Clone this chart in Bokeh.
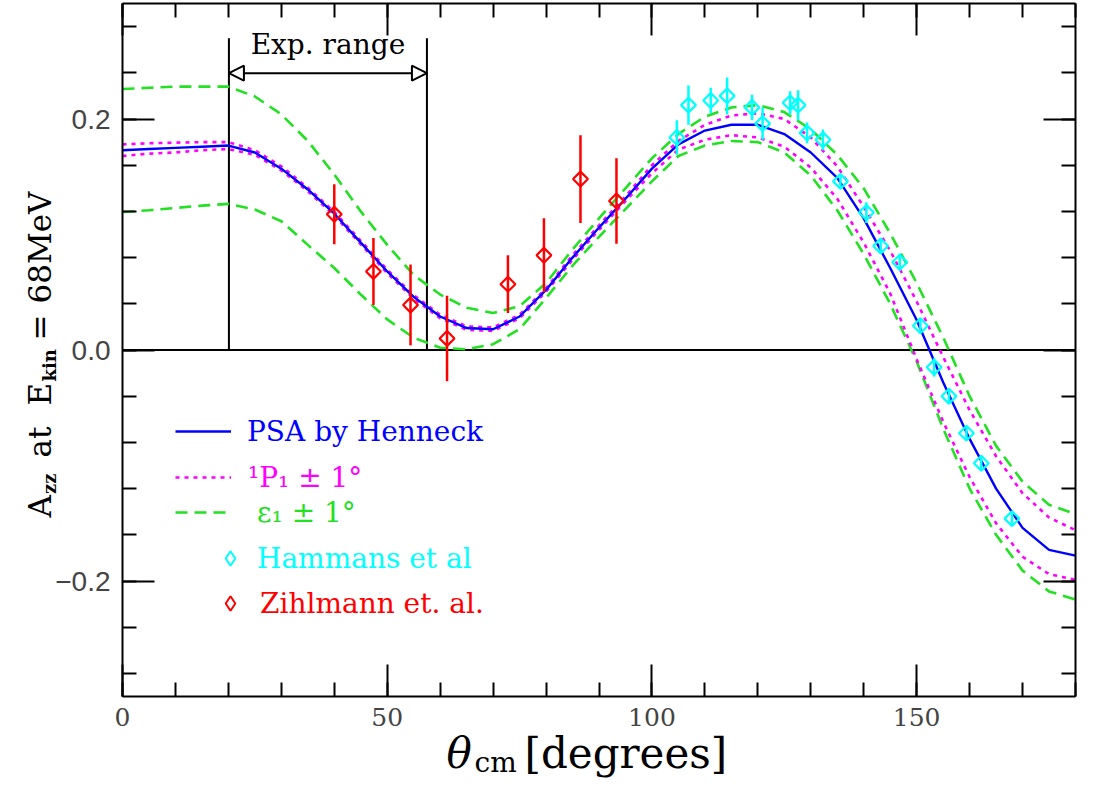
import numpy as np
from bokeh.plotting import figure
from bokeh.models import (Range1d, LinearAxis, FixedTicker, Label, Arrow,
                          NormalHead, Legend, LegendItem, ColumnDataSource)
from bokeh.embed import file_html
from bokeh.resources import INLINE

# ---------------- data ----------------
theta = [0, 5, 10, 15, 20, 25, 30, 35, 40, 45, 50, 55, 60, 65, 70, 75, 80, 85, 90,
         95, 100, 105, 110, 115, 120, 125, 130, 135, 140, 145, 150, 155, 160, 165,
         170, 175, 180]
psa = [0.173, 0.174, 0.175, 0.176, 0.177, 0.171, 0.157, 0.139, 0.118, 0.093, 0.068,
       0.046, 0.029, 0.019, 0.018, 0.029, 0.052, 0.080, 0.106, 0.131, 0.157, 0.178,
       0.190, 0.195, 0.195, 0.187, 0.171, 0.149, 0.114, 0.071, 0.026, -0.028, -0.077,
       -0.120, -0.154, -0.173, -0.178]
p1_up = [0.178, 0.179, 0.1795, 0.180, 0.180, 0.173, 0.159, 0.1405, 0.1195, 0.0945,
         0.0695, 0.0475, 0.0305, 0.0205, 0.0195, 0.0305, 0.0535, 0.082, 0.108, 0.133,
         0.160, 0.181, 0.195, 0.203, 0.205, 0.200, 0.184, 0.159, 0.124, 0.086, 0.042,
         -0.006, -0.052, -0.092, -0.124, -0.145, -0.156]
p1_lo = [0.168, 0.170, 0.171, 0.173, 0.174, 0.169, 0.1555, 0.1375, 0.1165, 0.0915,
         0.0665, 0.0445, 0.0275, 0.0175, 0.0165, 0.0275, 0.0505, 0.078, 0.104, 0.129,
         0.153, 0.1735, 0.182, 0.186, 0.184, 0.176, 0.158, 0.131, 0.093, 0.049, -0.008,
         -0.062, -0.110, -0.150, -0.179, -0.194, -0.199]
eps_up = [0.226, 0.227, 0.228, 0.228, 0.228, 0.2195, 0.204, 0.181, 0.152, 0.120, 0.091,
          0.065, 0.048, 0.0366, 0.032, 0.038, 0.058, 0.087, 0.114, 0.140, 0.166, 0.187,
          0.202, 0.210, 0.212, 0.206, 0.191, 0.169, 0.140, 0.101, 0.058, 0.011, -0.040,
          -0.083, -0.114, -0.134, -0.142]
eps_lo = [0.1195, 0.121, 0.123, 0.125, 0.1265, 0.1216, 0.1115, 0.091, 0.071, 0.048,
          0.0265, 0.0106, 0.002, 0.0006, 0.005, 0.018, 0.045, 0.073, 0.098, 0.122, 0.146,
          0.168, 0.177, 0.181, 0.180, 0.171, 0.151, 0.121, 0.083, 0.040, -0.010, -0.068,
          -0.120, -0.160, -0.191, -0.209, -0.216]

ham_x = [104.7, 106.9, 111.1, 114.2, 118.9, 120.9, 126.1, 127.6, 129.3, 132.3, 135.6,
         140.5, 143.2, 146.8, 150.7, 153.3, 156.1, 159.4, 162.2, 168.0]
ham_y = [0.184, 0.212, 0.216, 0.220, 0.210, 0.196, 0.214, 0.212, 0.188, 0.182, 0.146,
         0.119, 0.090, 0.076, 0.021, -0.015, -0.040, -0.072, -0.098, -0.146]
ham_err = [0.015, 0.017, 0.011, 0.016, 0.011, 0.014, 0.010, 0.013, 0.009, 0.009, 0.005,
           0.009, 0.006, 0.0075, 0.005, 0.008, 0.005, 0.005, 0.005, 0.005]

zih_x = [40.0, 47.4, 54.4, 61.3, 72.8, 79.6, 86.5, 93.3]
zih_y = [0.1175, 0.068, 0.039, 0.010, 0.057, 0.082, 0.148, 0.129]
zih_err = [0.026, 0.029, 0.035, 0.037, 0.025, 0.032, 0.038, 0.037]

x_lim = (0, 180)
y_lim = (-0.3, 0.3)
x_major = [0, 50, 100, 150]
x_minor = [0, 10, 20, 30, 40, 50, 60, 70, 80, 90, 100, 110, 120, 130, 140, 150, 160,
           170, 180]
y_major = [-0.2, 0.0, 0.2]
y_minor = [-0.28, -0.24, -0.20, -0.16, -0.12, -0.08, -0.04, 0.0, 0.04, 0.08, 0.12,
           0.16, 0.20, 0.24, 0.28]
y_tick_text = {-0.2: "\u22120.2", 0.0: "0.0", 0.2: "0.2"}

exp_range = [20.1, 57.5]
exp_top = 0.270
exp_arrow_y = 0.2397
exp_text_y = 0.2645
exp_text = "Exp. range"

# ---------------- geometry (pixels of the picture) ----------------
W, H = 1077, 780
BOX_L, BOX_R, BOX_T, BOX_B = 122, 1075, 3, 696   # plot box inside the canvas
sx = (BOX_R - BOX_L) / (x_lim[1] - x_lim[0])
sy = (BOX_B - BOX_T) / (y_lim[1] - y_lim[0])
xr = Range1d(x_lim[0] - BOX_L / sx, x_lim[1] + (W - BOX_R) / sx)
yr = Range1d(y_lim[0] - (H - BOX_B) / sy, y_lim[1] + BOX_T / sy)

p = figure(width=W, height=H, x_range=xr, y_range=yr,
           output_backend="svg", toolbar_location=None,
           x_axis_location=None, y_axis_location=None, min_border=0)
p.min_border_left = p.min_border_right = p.min_border_top = p.min_border_bottom = 0
p.xgrid.grid_line_color = None
p.ygrid.grid_line_color = None
p.outline_line_color = None
p.background_fill_color = "white"
p.border_fill_color = "white"


def make_axis(loc, bounds, ticks, minor, show):
    ax = LinearAxis(fixed_location=loc, bounds=bounds,
                    ticker=FixedTicker(ticks=ticks, minor_ticks=minor),
                    major_tick_in=32, major_tick_out=0,
                    minor_tick_in=14, minor_tick_out=0,
                    axis_line_width=2, major_tick_line_width=2,
                    minor_tick_line_width=2)
    if not show:
        ax.major_label_text_font_size = "1px"
        ax.major_label_text_alpha = 0
        ax.major_label_standoff = 0
    return ax


ax_b = make_axis(y_lim[0], x_lim, x_major, x_minor, True)
ax_b.major_label_text_font = "DejaVu Serif"
ax_b.major_label_text_font_size = "25px"
ax_b.major_label_standoff = 11
p.add_layout(ax_b, "below")
p.add_layout(make_axis(y_lim[1], x_lim, x_major, x_minor, False), "above")
ax_l = make_axis(x_lim[0], y_lim, y_major, y_minor, True)
ax_l.major_label_overrides = y_tick_text
ax_l.major_label_text_font = "Liberation Sans"
ax_l.major_label_text_font_size = "28px"
ax_l.major_label_standoff = 12
p.add_layout(ax_l, "left")
p.add_layout(make_axis(x_lim[1], y_lim, y_major, y_minor, False), "right")

# zero line
p.segment(x0=[x_lim[0]], y0=[0], x1=[x_lim[1]], y1=[0], line_color="black",
          line_width=2)

# experimental range marker
p.segment(x0=exp_range, y0=[0, 0], x1=exp_range, y1=[exp_top, exp_top],
          line_color="black", line_width=2)
p.add_layout(Arrow(x_start=exp_range[0], y_start=exp_arrow_y,
                   x_end=exp_range[1], y_end=exp_arrow_y,
                   line_color="black", line_width=2,
                   start=NormalHead(size=15, fill_color="white", line_color="black",
                                    line_width=2),
                   end=NormalHead(size=15, fill_color="white", line_color="black",
                                  line_width=2)))
p.add_layout(Label(x=sum(exp_range) / 2, y=exp_text_y, text=exp_text,
                   text_align="center", text_baseline="middle",
                   text_font="DejaVu Serif", text_font_size="28px", text_color="black"))

# curves
src = ColumnDataSource(dict(theta=theta, psa=psa, p1_up=p1_up, p1_lo=p1_lo,
                            eps_up=eps_up, eps_lo=eps_lo))
GREEN = "#22e022"
MAG = "#ff00ff"
CYAN = "#00ffff"
RED = "#ff0000"
BLUE = "#0000ff"
r_eps = p.line("theta", "eps_up", source=src, line_color=GREEN, line_width=2.6,
               line_dash="12 7")
p.line("theta", "eps_lo", source=src, line_color=GREEN, line_width=2.6, line_dash="12 7")
r_p1 = p.line("theta", "p1_up", source=src, line_color=MAG, line_width=2.6,
              line_dash="4 5")
p.line("theta", "p1_lo", source=src, line_color=MAG, line_width=2.6, line_dash="4 5")
r_psa = p.line("theta", "psa", source=src, line_color=BLUE, line_width=2.4)

# data with error bars
ham_lo = [y - e for y, e in zip(ham_y, ham_err)]
ham_hi = [y + e for y, e in zip(ham_y, ham_err)]
zih_lo = [y - e for y, e in zip(zih_y, zih_err)]
zih_hi = [y + e for y, e in zip(zih_y, zih_err)]
p.segment(x0=ham_x, y0=ham_lo, x1=ham_x, y1=ham_hi, line_color=CYAN, line_width=2.5)
p.scatter(ham_x, ham_y, marker="square", angle=np.pi / 4, size=10.5,
          fill_color=None, line_color=CYAN, line_width=2.2)
p.segment(x0=zih_x, y0=zih_lo, x1=zih_x, y1=zih_hi, line_color=RED, line_width=2.5)
p.scatter(zih_x, zih_y, marker="square", angle=np.pi / 4, size=10.5,
          fill_color=None, line_color=RED, line_width=2.2)

# legend-only marker renderers (diamond key, no visible point)
r_ham_key = p.scatter([float("nan")], [float("nan")], marker="diamond",
                      fill_color=None, line_color=CYAN, line_width=2)
r_zih_key = p.scatter([float("nan")], [float("nan")], marker="diamond",
                      fill_color=None, line_color=RED, line_width=2)


# legend: one single-item legend per entry (each has its own text colour)
def add_legend(label, renderer, color, gx, gw, standoff, cy):
    h = 40
    leg = Legend(items=[LegendItem(label=label, renderers=[renderer])],
                 location=(gx, H - (cy + h / 2)), orientation="vertical",
                 glyph_width=gw, glyph_height=h, label_height=h, label_standoff=standoff,
                 padding=0, margin=0, spacing=0, border_line_alpha=0,
                 background_fill_alpha=0, label_text_font="DejaVu Serif",
                 label_text_font_size="28px", label_text_color=color,
                 label_text_baseline="middle")
    p.add_layout(leg)


add_legend("PSA by Henneck", r_psa, BLUE, 175, 56, 16, 431)
add_legend("\u00b9P\u2081 \u00b1 1\u00b0", r_p1, MAG, 175, 56, 17, 477)
add_legend("\u03b5\u2081 \u00b1 1\u00b0", r_eps, GREEN, 175, 56, 26, 512)
add_legend("Hammans et al", r_ham_key, CYAN, 212, 36, 9, 558)
add_legend("Zihlmann et. al.", r_zih_key, RED, 212, 36, 12, 603)


# axis titles composed of pieces; (px, py) = centre line of the text in picture pixels
def add_text(text, px, py, size, angle=0.0, style="normal"):
    p.add_layout(Label(x=px, y=H - py, x_units="screen", y_units="screen",
                       text=text, angle=angle, text_align="left",
                       text_baseline="middle", text_font="DejaVu Serif",
                       text_font_size=f"{size}px", text_font_style=style,
                       text_color="black"))


R = np.pi / 2
add_text("A", 39, 517, 31, R)
add_text("zz", 49, 493.5, 18, R, style="bold")
add_text("at", 39, 457, 31, R)
add_text("E", 39, 405, 31, R)
add_text("kin", 49, 381, 18, R, style="bold")
add_text("=", 39, 340, 31, R)
add_text("68MeV", 39, 303, 31, R)

add_text("\u03b8", 446, 753, 42, style="italic")
add_text("cm", 474, 762, 28)
add_text("[degrees]", 524, 753, 42)

open("out.html", "w").write(file_html(p, INLINE))
